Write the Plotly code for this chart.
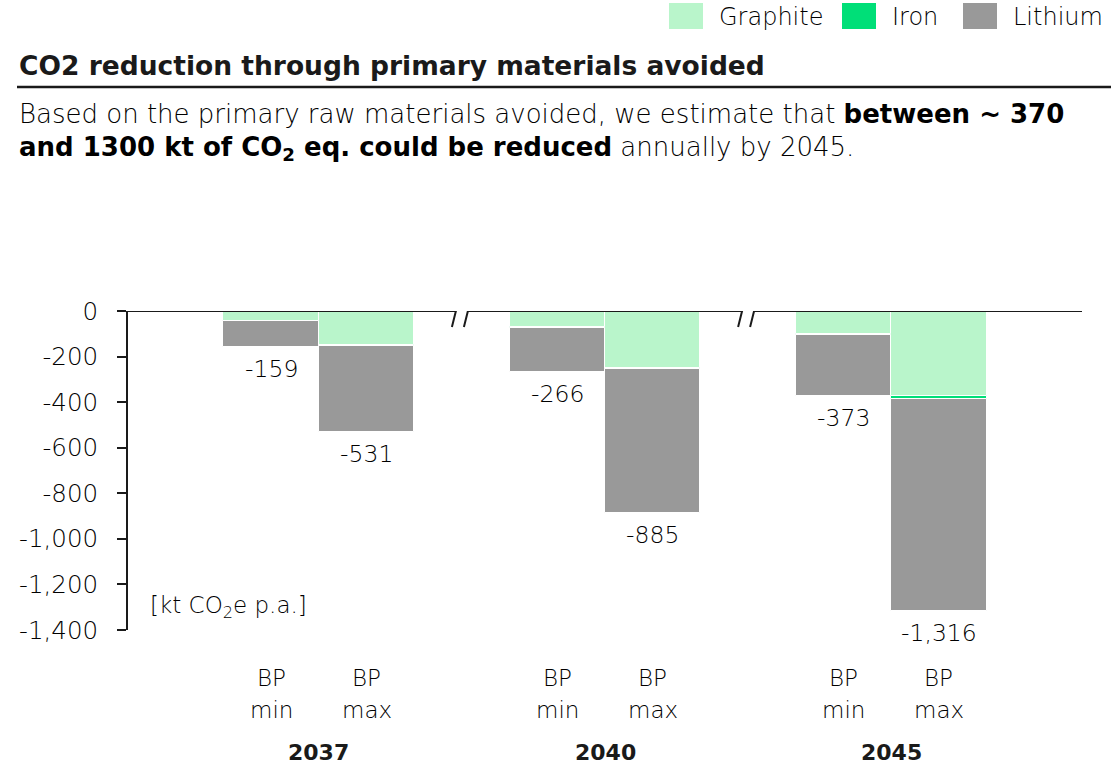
import plotly.graph_objects as go

# ---- data -------------------------------------------------------------
years = ["2037", "2040", "2045"]
scenarios = ["min", "max"]
bar_x = [0, 1, 3, 4, 6, 7]          # BP min / BP max per year, gap between years
graphite = [-44, -149, -72, -250, -102, -373]
iron = [-1, -3, -2, -6, -3, -12]
lithium = [-114, -379, -192, -629, -268, -931]
y_ticks = [0, -200, -400, -600, -800, -1000, -1200, -1400]
break_x = [2, 5]

series = [
    ("Graphite", graphite, "#b9f5cb"),
    ("Iron", iron, "#00df78"),
    ("Lithium", lithium, "#999999"),
]

W, H = 1117, 766
L, R, T, B = 128, 35, 311, 136
FONT = "DejaVu Sans"
INK = "#1a1a1a"
TEXT = "#000000"
LIGHT = 200


def px(xp):
    return (xp - L) / (W - L - R)


def py(yp):
    return (H - B - yp) / (H - T - B)


def light(size):
    return dict(family=FONT, size=size, color=TEXT, weight=LIGHT)


fig = go.Figure()
for name, vals, color in series:
    fig.add_trace(go.Bar(
        x=bar_x, y=vals, name=name, width=1,
        marker=dict(color=color, line=dict(color="white", width=1)),
        showlegend=False,
    ))

annotations = []
shapes = []

# totals under each bar
totals = [g + i + l for g, i, l in zip(graphite, iron, lithium)]
for x, t in zip(bar_x, totals):
    annotations.append(dict(
        x=x, y=t, xref="x", yref="y", text=f"{t:,}", showarrow=False,
        yanchor="top", yshift=-6, font=light(23.5),
    ))

# category labels below the axis
for k, x in enumerate(bar_x):
    annotations.append(dict(
        x=x, y=py(678), xref="x", yref="paper", text="BP", showarrow=False,
        yanchor="middle", font=light(23),
    ))
    annotations.append(dict(
        x=x, y=py(710), xref="x", yref="paper", text=scenarios[k % 2],
        showarrow=False, yanchor="middle", font=light(23),
    ))
for j, yr in enumerate(years):
    annotations.append(dict(
        x=(bar_x[2 * j] + bar_x[2 * j + 1]) / 2, y=py(752), xref="x", yref="paper",
        text=f"<b>{yr}</b>", showarrow=False, yanchor="middle",
        font=dict(family=FONT, size=22, color=INK),
    ))

# unit label
annotations.append(dict(
    x=px(148), y=py(607), xref="paper", yref="paper",
    text="[kt CO<sub>2</sub>e p.a.]", showarrow=False,
    xanchor="left", yanchor="middle", font=light(23),
))

# title, rule and subtitle
annotations.append(dict(
    x=px(17), y=py(65), xref="paper", yref="paper",
    text="<b>CO2 reduction through primary materials avoided</b>",
    showarrow=False, xanchor="left", yanchor="middle",
    font=dict(family=FONT, size=26.5, color=INK),
))
shapes.append(dict(
    type="line", xref="paper", yref="paper",
    x0=px(17), x1=px(1111), y0=py(87), y1=py(87),
    line=dict(color=INK, width=2.5),
))
annotations.append(dict(
    x=px(17), y=py(114), xref="paper", yref="paper",
    text="Based on the primary raw materials avoided, we estimate that <b>between ~ 370</b>",
    showarrow=False, xanchor="left", yanchor="middle", font=light(26),
))
annotations.append(dict(
    x=px(17), y=py(148), xref="paper", yref="paper",
    text="<b>and 1300 kt of CO<sub>2</sub> eq. could be reduced</b> annually by 2045.",
    showarrow=False, xanchor="left", yanchor="middle", font=light(26),
))

# legend
legend_box_left = [669, 842, 963]
for (name, _, color), x0 in zip(series, legend_box_left):
    shapes.append(dict(
        type="rect", xref="paper", yref="paper",
        x0=px(x0), x1=px(x0 + 34), y0=py(3), y1=py(29),
        fillcolor=color, line=dict(width=0),
    ))
    annotations.append(dict(
        x=px(x0 + 48), y=py(17), xref="paper", yref="paper", text=name,
        showarrow=False, xanchor="left", yanchor="middle", font=light(24),
    ))

# zero line
shapes.append(dict(
    type="line", xref="paper", yref="y", x0=0, x1=1, y0=0, y1=0,
    line=dict(color=INK, width=2), layer="above",
))

# axis break marks
for bx in break_x:
    shapes.append(dict(
        type="rect", xref="x", yref="y", xsizemode="pixel", ysizemode="pixel",
        xanchor=bx, yanchor=0, x0=-6, x1=6, y0=-3, y1=3,
        fillcolor="white", line=dict(width=0), layer="above",
    ))
    for off in (-6, 6):
        shapes.append(dict(
            type="line", xref="x", yref="y", xsizemode="pixel", ysizemode="pixel",
            xanchor=bx, yanchor=0, x0=off - 4, x1=off + 4, y0=-16, y1=16,
            line=dict(color=INK, width=2), layer="above",
        ))

fig.update_layout(
    width=W, height=H,
    margin=dict(l=L, r=R, t=T, b=B, pad=0),
    paper_bgcolor="white", plot_bgcolor="white",
    barmode="relative", bargap=0,
    font=dict(family=FONT, color=INK),
    annotations=annotations, shapes=shapes,
    xaxis=dict(range=[-1.5, 8.5], showgrid=False, zeroline=False,
               showline=False, showticklabels=False, ticks=""),
    yaxis=dict(range=[-1400, 0], showgrid=False, zeroline=False,
               showline=True, linecolor=INK, linewidth=2,
               ticks="outside", ticklen=9, tickwidth=2, tickcolor=INK,
               tickvals=y_ticks, ticktext=[f"{v:,}" for v in y_ticks],
               ticklabelstandoff=14, tickfont=light(24.5)),
)

fig.write_html("out.html")
